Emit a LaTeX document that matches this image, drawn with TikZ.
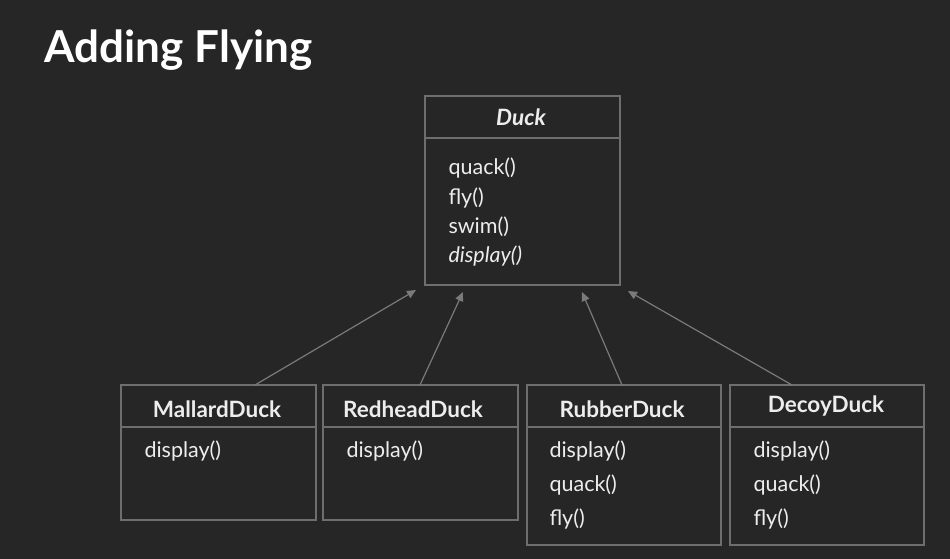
\documentclass[tikz,border=0pt]{standalone}
\usepackage{fontspec}
\setmainfont{Lato}
\usetikzlibrary{arrows.meta}
\definecolor{bg}{HTML}{262626}
\definecolor{boxline}{HTML}{6E6E6E}
\definecolor{txt}{HTML}{EDEDED}
\definecolor{arr}{HTML}{7A7A7A}
\begin{document}
\begin{tikzpicture}[x=1pt,y=-1pt,
  boxfr/.style={draw=boxline, line width=1.2pt},
  ttl/.style={text=txt, font=\fontsize{22.5}{26}\selectfont\bfseries, anchor=center},
  meth/.style={text=txt, font=\fontsize{21.5}{25}\selectfont, anchor=west},
  inh/.style={draw=arr, line width=1.2pt, -{Triangle[length=9pt,width=8pt]}}
]
\fill[bg] (0,0) rectangle (950,559);
\useasboundingbox (0,0) rectangle (950,559);

\node[text=white, font=\fontsize{44}{50}\selectfont\bfseries, anchor=west] (title) at (41,50) {Adding Flying};

% Duck
\draw[boxfr] (425,96) rectangle (620,285);
\draw[boxfr] (425,138) -- (620,138);
\node[ttl, font=\fontsize{22.5}{26}\selectfont\bfseries\itshape] (duckT) at (521,117) {Duck};
\node[meth] (d1) at (445,168) {quack()};
\node[meth] (d2) at (445,198) {fly()};
\node[meth] (d3) at (445,227) {swim()};
\node[meth, font=\fontsize{21.5}{25}\selectfont\itshape] (d4) at (445,256) {display()};

% MallardDuck
\draw[boxfr] (121,385) rectangle (316,520);
\draw[boxfr] (121,427) -- (316,427);
\node[ttl] (mT) at (217,409) {MallardDuck};
\node[meth] (m1) at (141,451) {display()};

% RedheadDuck
\draw[boxfr] (323,385) rectangle (518,520);
\draw[boxfr] (323,427) -- (518,427);
\node[ttl] (rT) at (413,409) {RedheadDuck};
\node[meth] (r1) at (343,451) {display()};

% RubberDuck
\draw[boxfr] (527,385) rectangle (721,545);
\draw[boxfr] (527,427) -- (721,427);
\node[ttl] (ruT) at (622,409) {RubberDuck};
\node[meth] (ru1) at (546,451) {display()};
\node[meth] (ru2) at (546,485) {quack()};
\node[meth] (ru3) at (546,519) {fly()};

% DecoyDuck
\draw[boxfr] (730,385) rectangle (924,545);
\draw[boxfr] (730,427) -- (924,427);
\node[ttl] (dcT) at (826,406) {DecoyDuck};
\node[meth] (dc1) at (750,451) {display()};
\node[meth] (dc2) at (750,485) {quack()};
\node[meth] (dc3) at (750,519) {fly()};

% arrows
\coordinate (ms) at (255,385); \coordinate (me) at (416,290);
\coordinate (rs) at (420,385); \coordinate (re) at (463,292);
\coordinate (us) at (622,385); \coordinate (ue) at (582,292);
\coordinate (cs) at (792,385); \coordinate (ce) at (628,291);
\draw[inh] (ms) -- (me);
\draw[inh] (rs) -- (re);
\draw[inh] (us) -- (ue);
\draw[inh] (cs) -- (ce);
\end{tikzpicture}
\end{document}
